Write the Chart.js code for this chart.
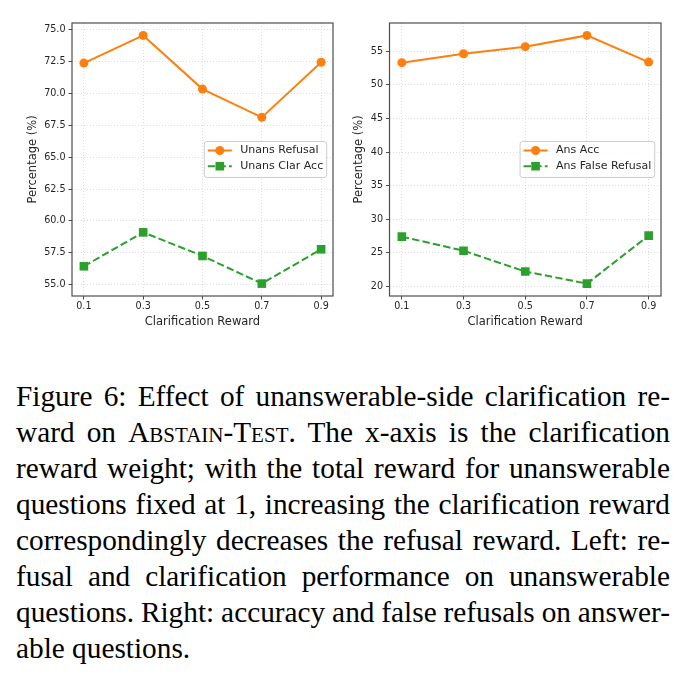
<!DOCTYPE html>
<html>
<head>
<meta charset="utf-8">
<script src="https://cdn.jsdelivr.net/npm/chart.js@4.4.1/dist/chart.umd.min.js"></script>
<style>
  body { margin: 0; background: #fff; width: 692px; height: 679px; position: relative; overflow: hidden; }
  .plot { position: absolute; top: 0; }
  #caption { position: absolute; left: 16px; top: 378px; width: 654px;
    font-family: "Liberation Serif", "Times New Roman", serif; font-size: 29.3px; line-height: 36px; color: #000; }
  #caption div { white-space: nowrap; }
  #caption span.line { display: inline-block; }
  .sc { font-variant: small-caps; }
</style>
</head>
<body>
<canvas id="leftChart" class="plot" style="left:0" width="346" height="340"></canvas>
<canvas id="rightChart" class="plot" style="left:346px" width="346" height="340"></canvas>
<div id="caption">
  <div><span class="line">Figure 6: Effect of unanswerable-side clarification re-</span></div>
  <div><span class="line">ward on <span class="sc">Abstain-Test</span>. The x-axis is the clarification</span></div>
  <div><span class="line">reward weight; with the total reward for unanswerable</span></div>
  <div><span class="line">questions fixed at 1, increasing the clarification reward</span></div>
  <div><span class="line">correspondingly decreases the refusal reward. Left: re-</span></div>
  <div><span class="line">fusal and clarification performance on unanswerable</span></div>
  <div><span class="line">questions. Right: accuracy and false refusals on answer-</span></div>
  <div class="last"><span class="line">able questions.</span></div>
</div>
<script>
// data
const rewardWeights = [0.1, 0.3, 0.5, 0.7, 0.9];
const xTickLabels = ['0.1', '0.3', '0.5', '0.7', '0.9'];

const unansRefusal = [72.38, 74.55, 70.34, 68.12, 72.44];
const unansClarAcc = [56.44, 59.10, 57.25, 55.08, 57.77];
const ansAcc = [53.32, 54.65, 55.70, 57.38, 53.40];
const ansFalseRefusal = [27.40, 25.30, 22.20, 20.40, 27.55];

const leftYTicks = [55, 57.5, 60, 62.5, 65, 67.5, 70, 72.5, 75];
const rightYTicks = [20, 25, 30, 35, 40, 45, 50, 55];

const ORANGE = '#ff7f0e';
const GREEN = '#2ca02c';

Chart.defaults.font.family = '"DejaVu Sans", sans-serif';
Chart.defaults.color = '#262626';

// justify caption lines like LaTeX does (spaces may shrink too)
document.querySelectorAll('#caption div:not(.last)').forEach(div => {
  const span = div.querySelector('.line');
  const natural = span.getBoundingClientRect().width;
  const spaces = (span.textContent.match(/ /g) || []).length;
  if (spaces) span.style.wordSpacing = ((654 - natural) / spaces) + 'px';
});

// matplotlib style 5% auto margins
function padRange(values) {
  const lo = Math.min(...values), hi = Math.max(...values);
  const m = (hi - lo) * 0.05;
  return [lo - m, hi + m];
}

// box around the whole axes
const frame = {
  id: 'frame',
  afterDatasetsDraw(chart) {
    const a = chart.chartArea, ctx = chart.ctx;
    ctx.save();
    ctx.strokeStyle = '#4d4d4d';
    ctx.lineWidth = 1.2;
    ctx.strokeRect(a.left, a.top, a.right - a.left, a.bottom - a.top);
    ctx.restore();
  }
};

// legend drawn inside the axes, "center right"
const insideLegend = {
  id: 'insideLegend',
  afterDraw(chart) {
    const ctx = chart.ctx, a = chart.chartArea;
    const sets = chart.data.datasets;
    ctx.save();
    ctx.font = '11px "DejaVu Sans"';
    const textW = Math.max(...sets.map(d => ctx.measureText(d.label).width));
    const pad = 3.5, handle = 24, gap = 8.5, rowH = 15.7;
    const w = pad + handle + gap + textW + pad;
    const h = 36;
    const x0 = a.right - 6.3 - w;
    const y0 = (a.top + a.bottom) / 2 - h / 2;

    ctx.beginPath();
    ctx.roundRect(x0, y0, w, h, 2.5);
    ctx.fillStyle = 'rgba(255,255,255,0.85)';
    ctx.fill();
    ctx.strokeStyle = '#cccccc';
    ctx.lineWidth = 1;
    ctx.stroke();

    sets.forEach((d, i) => {
      const y = y0 + 9 + i * rowH;
      ctx.save();
      ctx.strokeStyle = d.borderColor;
      ctx.lineWidth = d.borderWidth;
      ctx.setLineDash(d.borderDash || []);
      ctx.beginPath();
      ctx.moveTo(x0 + pad, y);
      ctx.lineTo(x0 + pad + handle, y);
      ctx.stroke();
      ctx.restore();
      ctx.fillStyle = d.backgroundColor;
      ctx.strokeStyle = d.borderColor;
      Chart.helpers.drawPoint(ctx, { pointStyle: d.pointStyle, radius: d.pointRadius, rotation: 0, borderWidth: 0 },
        x0 + pad + handle / 2, y);
      ctx.fillStyle = '#262626';
      ctx.textBaseline = 'middle';
      ctx.textAlign = 'left';
      ctx.fillText(d.label, x0 + pad + handle + gap, y);
    });
    ctx.restore();
  }
};

function toPoints(values) {
  return rewardWeights.map((x, i) => ({ x: x, y: values[i] }));
}

function makeChart(id, names, series, yTicks, decimals, geo) {
  const allY = series[0].concat(series[1]);
  const [yMin, yMax] = padRange(allY);
  const [xMin, xMax] = padRange(rewardWeights);

  const datasets = [
    {
      label: names[0], data: toPoints(series[0]),
      borderColor: ORANGE, backgroundColor: ORANGE, borderWidth: 2,
      pointStyle: 'circle', pointRadius: 4.5, pointBorderWidth: 0
    },
    {
      label: names[1], data: toPoints(series[1]),
      borderColor: GREEN, backgroundColor: GREEN, borderWidth: 2, borderDash: [7.4, 3.2],
      pointStyle: 'rect', pointRadius: 6.1, pointBorderWidth: 0
    }
  ];

  const gridOpts = {
    color: '#d4d4d4', lineWidth: 0.8, drawTicks: true, tickLength: 3.5,
    tickColor: '#4d4d4d', tickWidth: 1, tickBorderDash: []
  };

  return new Chart(document.getElementById(id), {
    type: 'line',
    data: { datasets: datasets },
    options: {
      responsive: false,
      animation: false,
      devicePixelRatio: 1,
      layout: { padding: { left: 0, top: geo.top, right: 346 - geo.right, bottom: 0 } },
      plugins: { legend: { display: false }, tooltip: { enabled: false } },
      scales: {
        x: {
          type: 'linear', min: xMin, max: xMax,
          grid: gridOpts,
          border: { display: false, dash: [1, 2] },
          afterBuildTicks: s => { s.ticks = rewardWeights.map(v => ({ value: v })); },
          afterFit: s => { s.height = 340 - geo.bottom; },
          ticks: {
            padding: 1, maxRotation: 0, font: { size: 9.6 },
            callback: v => xTickLabels[rewardWeights.indexOf(v)]
          },
          title: { display: true, text: 'Clarification Reward', font: { size: 11.5 }, padding: { top: 0, bottom: 11.4 } }
        },
        y: {
          type: 'linear', min: yMin, max: yMax,
          grid: gridOpts,
          border: { display: false, dash: [1, 2] },
          afterBuildTicks: s => { s.ticks = yTicks.map(v => ({ value: v })); },
          afterFit: s => { s.width = geo.left; },
          ticks: { padding: 3, font: { size: 9.6 }, callback: v => v.toFixed(decimals) },
          title: { display: true, text: 'Percentage (%)', font: { size: 11.5 }, padding: { top: geo.titleX, bottom: 0 } }
        }
      }
    },
    plugins: [frame, insideLegend]
  });
}

makeChart('leftChart', ['Unans Refusal', 'Unans Clar Acc'], [unansRefusal, unansClarAcc], leftYTicks, 1,
  { left: 72, right: 333, top: 23, bottom: 296, titleX: 26 });
makeChart('rightChart', ['Ans Acc', 'Ans False Refusal'], [ansAcc, ansFalseRefusal], rightYTicks, 0,
  { left: 43.5, right: 315, top: 23, bottom: 296, titleX: 6.4 });
</script>
</body>
</html>
